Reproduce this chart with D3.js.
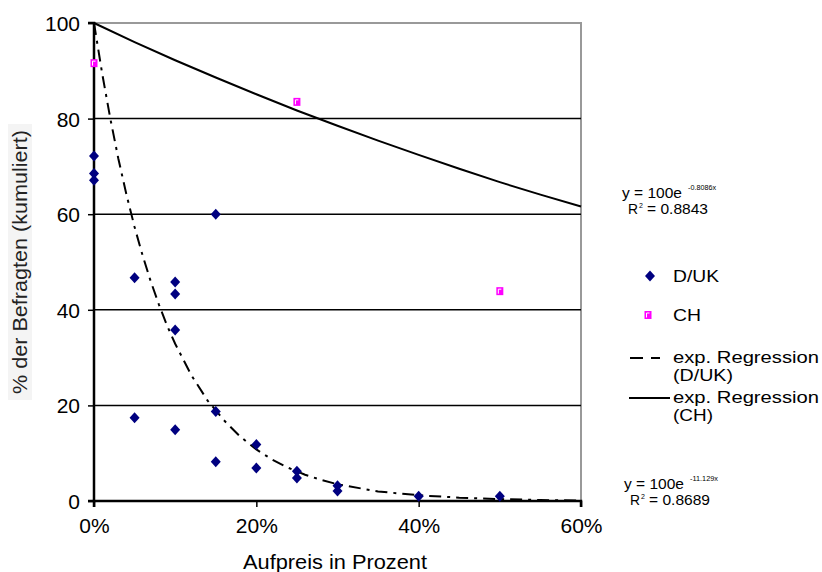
<!DOCTYPE html>
<html>
<head>
<meta charset="utf-8">
<script src="https://cdn.jsdelivr.net/npm/d3@7"></script>
<style>
  body { margin: 0; background: #fff; }
  text { font-family: "Liberation Sans", Arial, sans-serif; }
</style>
</head>
<body>
<svg id="chart" width="822" height="572"></svg>
<script>
// D/UK survey points (Aufpreis as fraction, % cumulated)
var dukX = [0, 0, 0, 0.05, 0.05, 0.10, 0.10, 0.10, 0.10, 0.15, 0.15, 0.15, 0.20, 0.20, 0.25, 0.25, 0.30, 0.30, 0.40, 0.50];
var dukY = [72.2, 68.5, 67.1, 46.7, 17.4, 45.8, 43.3, 35.8, 14.9, 60.0, 18.7, 8.2, 11.8, 6.9, 6.2, 4.8, 3.2, 2.1, 1.0, 1.0];

// CH survey points
var chX = [0, 0.25, 0.50];
var chY = [91.6, 83.5, 43.9];

// regression curves
var regDukX = [0, 0.01, 0.02, 0.03, 0.04, 0.05, 0.06, 0.07, 0.08, 0.09, 0.10, 0.12, 0.14, 0.16, 0.18, 0.20, 0.22, 0.24, 0.26, 0.28, 0.30, 0.35, 0.40, 0.45, 0.50, 0.55, 0.60];
var regDukY = [100, 89.5, 80.1, 71.6, 64.1, 57.3, 51.3, 45.9, 41.1, 36.7, 32.9, 26.3, 21.0, 16.9, 13.5, 10.8, 8.6, 6.9, 5.5, 4.4, 3.5, 2.0, 1.2, 0.7, 0.4, 0.2, 0.1];
var regChX = [0, 0.05, 0.10, 0.15, 0.20, 0.25, 0.30, 0.35, 0.40, 0.45, 0.50, 0.55, 0.60];
var regChY = [100, 96.0, 92.2, 88.6, 85.1, 81.7, 78.5, 75.4, 72.4, 69.5, 66.7, 64.1, 61.6];

var xTicks = [0, 0.2, 0.4, 0.6];
var yTicks = [0, 20, 40, 60, 80, 100];

var svg = d3.select('#chart');
var padding = {t: 23, l: 94};

var xScale = d3.scaleLinear().domain([0, 0.6]).range([0, 487]);
var yScale = d3.scaleLinear().domain([0, 100]).range([478, 0]);

var chartG = svg.append('g')
    .attr('transform', 'translate(' + [padding.l, padding.t] + ')');

// plot border (grey on top and right)
chartG.append('path')
    .attr('d', 'M0,' + yScale(100) + 'H' + xScale(0.6) + 'V' + yScale(0))
    .attr('fill', 'none')
    .attr('stroke', '#999')
    .attr('stroke-width', 2);

// gridlines
chartG.selectAll('.grid')
    .data(yTicks.filter(function(d) { return d > 0 && d < 100; }))
    .enter().append('line')
    .attr('class', 'grid')
    .attr('x1', 0).attr('x2', xScale(0.6))
    .attr('y1', function(d) { return yScale(d); })
    .attr('y2', function(d) { return yScale(d); })
    .attr('stroke', '#000')
    .attr('stroke-width', 1.5);

// axes
var xAxis = d3.axisBottom(xScale).tickValues(xTicks).tickSize(6).tickPadding(11)
    .tickFormat(d3.format('.0%'));
var yAxis = d3.axisLeft(yScale).tickValues(yTicks).tickSize(6).tickPadding(8);

var gx = chartG.append('g')
    .attr('transform', 'translate(0,' + yScale(0) + ')')
    .call(xAxis);
var gy = chartG.append('g').call(yAxis);

[gx, gy].forEach(function(g) {
    g.select('.domain').attr('stroke', '#000').attr('stroke-width', 2.5);
    g.selectAll('.tick line').attr('stroke', '#000').attr('stroke-width', 1.5);
    g.selectAll('.tick text')
        .attr('fill', '#000')
        .style('font-size', '21px')
        .style('font-family', '"Liberation Sans", Arial, sans-serif');
});
gy.selectAll('.tick text').attr('dy', '0.36em');
gx.select('.domain').attr('d', 'M0,6V0H' + xScale(0.6) + 'V6');
gy.select('.domain').attr('d', 'M-6,0H0V' + yScale(0) + 'H-6');

// regression lines
var line = d3.line()
    .x(function(d) { return xScale(d[0]); })
    .y(function(d) { return yScale(d[1]); });

chartG.append('path')
    .datum(d3.zip(regChX, regChY))
    .attr('d', line)
    .attr('fill', 'none')
    .attr('stroke', '#000')
    .attr('stroke-width', 2);

chartG.append('path')
    .datum(d3.zip(regDukX, regDukY))
    .attr('d', line)
    .attr('fill', 'none')
    .attr('stroke', '#000')
    .attr('stroke-width', 2)
    .attr('stroke-dasharray', '12,6,3,6');

// markers
var diamond = 'M0,-5.5L5,0L0,5.5L-5,0Z';

chartG.selectAll('.duk')
    .data(d3.zip(dukX, dukY))
    .enter().append('path')
    .attr('class', 'duk')
    .attr('d', diamond)
    .attr('fill', '#000080')
    .attr('transform', function(d) {
        return 'translate(' + [xScale(d[0]), yScale(d[1])] + ')';
    });

function chMarker(sel) {
    sel.append('rect')
        .attr('x', -3.5).attr('y', -4).attr('width', 7).attr('height', 8)
        .attr('fill', '#ff00ff');
    sel.append('path')
        .attr('d', 'M-1.5,2.5V-2H1.5')
        .attr('fill', 'none')
        .attr('stroke', '#fff')
        .attr('stroke-width', 1);
}

chartG.selectAll('.ch')
    .data(d3.zip(chX, chY))
    .enter().append('g')
    .attr('class', 'ch')
    .attr('transform', function(d) {
        return 'translate(' + [xScale(d[0]), yScale(d[1])] + ')';
    })
    .call(chMarker);

// stretch glyphs to a given width
function fit(sel, w) {
    sel.attr('textLength', w).attr('lengthAdjust', 'spacingAndGlyphs');
}

// axis titles
svg.append('text')
    .attr('x', 335)
    .attr('y', 569)
    .attr('text-anchor', 'middle')
    .style('font-size', '21px')
    .text('Aufpreis in Prozent')
    .call(fit, 184);

var yTitle = svg.append('g')
    .attr('transform', 'translate(20,262) rotate(-90)');
yTitle.append('rect')
    .attr('x', -138).attr('y', -12).attr('width', 276).attr('height', 24)
    .attr('fill', '#f4f4f4');
yTitle.append('text')
    .attr('text-anchor', 'middle')
    .attr('dy', '0.35em')
    .style('font-size', '20px')
    .attr('fill', '#222')
    .text('% der Befragten (kumuliert)')
    .call(fit, 264);

// legend
var legend = svg.append('g').style('font-size', '17px');
legend.append('path')
    .attr('d', diamond)
    .attr('fill', '#000080')
    .attr('transform', 'translate(650,276)');
legend.append('text').attr('x', 673).attr('y', 282).text('D/UK').call(fit, 46);

chMarker(legend.append('g').attr('transform', 'translate(648,315)'));
legend.append('text').attr('x', 673).attr('y', 321).text('CH').call(fit, 28);

legend.append('line')
    .attr('x1', 630).attr('x2', 660).attr('y1', 358).attr('y2', 358)
    .attr('stroke', '#000').attr('stroke-width', 2)
    .attr('stroke-dasharray', '13,8,6,0');
legend.append('text').attr('x', 673).attr('y', 363).text('exp. Regression').call(fit, 146);
legend.append('text').attr('x', 673).attr('y', 381).text('(D/UK)').call(fit, 60);

legend.append('line')
    .attr('x1', 629).attr('x2', 670).attr('y1', 398).attr('y2', 398)
    .attr('stroke', '#000').attr('stroke-width', 2);
legend.append('text').attr('x', 673).attr('y', 403).text('exp. Regression').call(fit, 146);
legend.append('text').attr('x', 673).attr('y', 421).text('(CH)').call(fit, 40);

// regression equations
function equation(x, y, coef, r2) {
    var g = svg.append('g').style('font-size', '15px');
    g.append('text').attr('x', x).attr('y', y).text('y = 100e').call(fit, 60);
    g.append('text').attr('x', x + 66).attr('y', y - 8).style('font-size', '7px').text(coef).call(fit, 28);
    g.append('text').attr('x', x + 6).attr('y', y + 16).text('R').call(fit, 10);
    g.append('text').attr('x', x + 17).attr('y', y + 10).style('font-size', '7px').text('2');
    g.append('text').attr('x', x + 25).attr('y', y + 16).text('= ' + r2).call(fit, 61);
}
equation(622, 198, '-0.8086x', '0.8843');
equation(624, 489, '-11.129x', '0.8689');
</script>
</body>
</html>
